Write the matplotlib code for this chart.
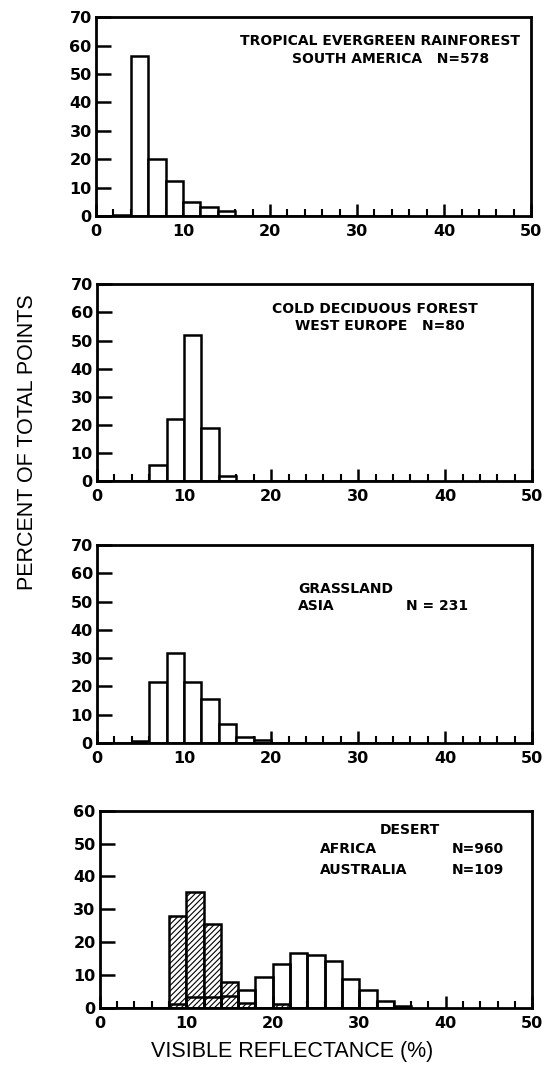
import numpy as np
import matplotlib
matplotlib.use("Agg")
import matplotlib.pyplot as plt
from matplotlib.ticker import MultipleLocator

# bin left edges (visible reflectance, %), 2 % wide bins
edges = [0, 2, 4, 6, 8, 10, 12, 14, 16, 18, 20, 22, 24, 26, 28, 30, 32, 34]

# percent of total points per bin
rainforest = [0, 0.5, 56.3, 20, 12.3, 4.9, 3.0, 1.6, 0, 0, 0, 0, 0, 0, 0, 0, 0, 0]
deciduous = [0, 0, 0, 5.6, 22.2, 52.1, 18.8, 1.8, 0, 0, 0, 0, 0, 0, 0, 0, 0, 0]
grassland = [0, 0, 0.7, 21.5, 32, 21.5, 15.6, 6.7, 2.0, 0.9, 0, 0, 0, 0, 0, 0, 0, 0]
africa = [0, 0, 0, 0, 1.0, 3.3, 3.3, 3.5, 5.5, 9.4, 13.2, 16.7, 16.1, 14.3, 8.6, 5.5, 2.0, 0.5]
australia = [0, 0, 0, 0, 28, 35.3, 25.4, 7.9, 1.3, 0, 1.0, 0, 0, 0, 0, 0, 0, 0]

xticks = [0, 10, 20, 30, 40, 50]

plt.rcParams['hatch.linewidth'] = 0.8
tick_font = {'family': 'DejaVu Sans', 'weight': 'bold', 'size': 11.5}
note_font = {'family': 'DejaVu Sans', 'weight': 'bold', 'size': 10}

fig = plt.figure(figsize=(5.51, 10.69), dpi=100)

boxes = [
    [0.174, 0.798, 0.790, 0.186],
    [0.176, 0.550, 0.790, 0.184],
    [0.176, 0.305, 0.790, 0.185],
    [0.181, 0.0575, 0.785, 0.184],
]
axes = [fig.add_axes(b) for b in boxes]


def style(ax, ymax):
    ax.set_xlim(0, 50)
    ax.set_ylim(0, ymax)
    for sp in ax.spines.values():
        sp.set_linewidth(2.0)
    ax.xaxis.set_minor_locator(MultipleLocator(2))
    ax.tick_params(axis='x', which='major', direction='in', length=9, width=1.8, pad=6)
    ax.tick_params(axis='x', which='minor', direction='in', length=5, width=1.5)
    ax.tick_params(axis='y', which='major', direction='in', length=11, width=1.8, pad=3)
    ax.set_xticks(xticks)
    ax.set_xticklabels([str(t) for t in xticks], fontdict=tick_font)
    yt = list(range(0, ymax + 1, 10))
    ax.set_yticks(yt)
    ax.set_yticklabels([str(t) for t in yt], fontdict=tick_font)


def open_bars(ax, vals):
    ax.bar(edges, vals, width=2, align='edge', color='white',
           edgecolor='black', linewidth=1.8, zorder=2)


def note(ax, x, y, s, ha='left'):
    ax.text(x, y, s, transform=ax.transAxes, ha=ha, va='center', fontdict=note_font)


open_bars(axes[0], rainforest)
style(axes[0], 70)
note(axes[0], 0.652, 0.881, 'TROPICAL EVERGREEN RAINFOREST', 'center')
note(axes[0], 0.676, 0.790, 'SOUTH AMERICA   N=578', 'center')

open_bars(axes[1], deciduous)
style(axes[1], 70)
note(axes[1], 0.639, 0.873, 'COLD DECIDUOUS FOREST', 'center')
note(axes[1], 0.649, 0.787, 'WEST EUROPE   N=80', 'center')

open_bars(axes[2], grassland)
style(axes[2], 70)
note(axes[2], 0.462, 0.778, 'GRASSLAND')
note(axes[2], 0.462, 0.692, 'ASIA')
note(axes[2], 0.710, 0.692, 'N = 231')

ax = axes[3]
ax.bar(edges, australia, width=2, align='edge', color='white', hatch='//////',
       edgecolor='black', linewidth=1.8, zorder=2)
ax.bar(edges, africa, width=2, align='edge', fill=False,
       edgecolor='black', linewidth=1.8, zorder=3)
style(ax, 60)
note(ax, 0.716, 0.903, 'DESERT', 'center')
note(ax, 0.509, 0.807, 'AFRICA')
note(ax, 0.813, 0.807, 'N=960')
note(ax, 0.509, 0.700, 'AUSTRALIA')
note(ax, 0.813, 0.700, 'N=109')

fig.text(0.05, 0.586, 'PERCENT OF TOTAL POINTS', rotation=90, ha='center', va='center',
         family='Liberation Sans', fontsize=15.5)
fig.text(0.53, 0.016, 'VISIBLE REFLECTANCE (%)', ha='center', va='center',
         family='Liberation Sans', fontsize=15.5)

fig.savefig('out.png', dpi=100)
